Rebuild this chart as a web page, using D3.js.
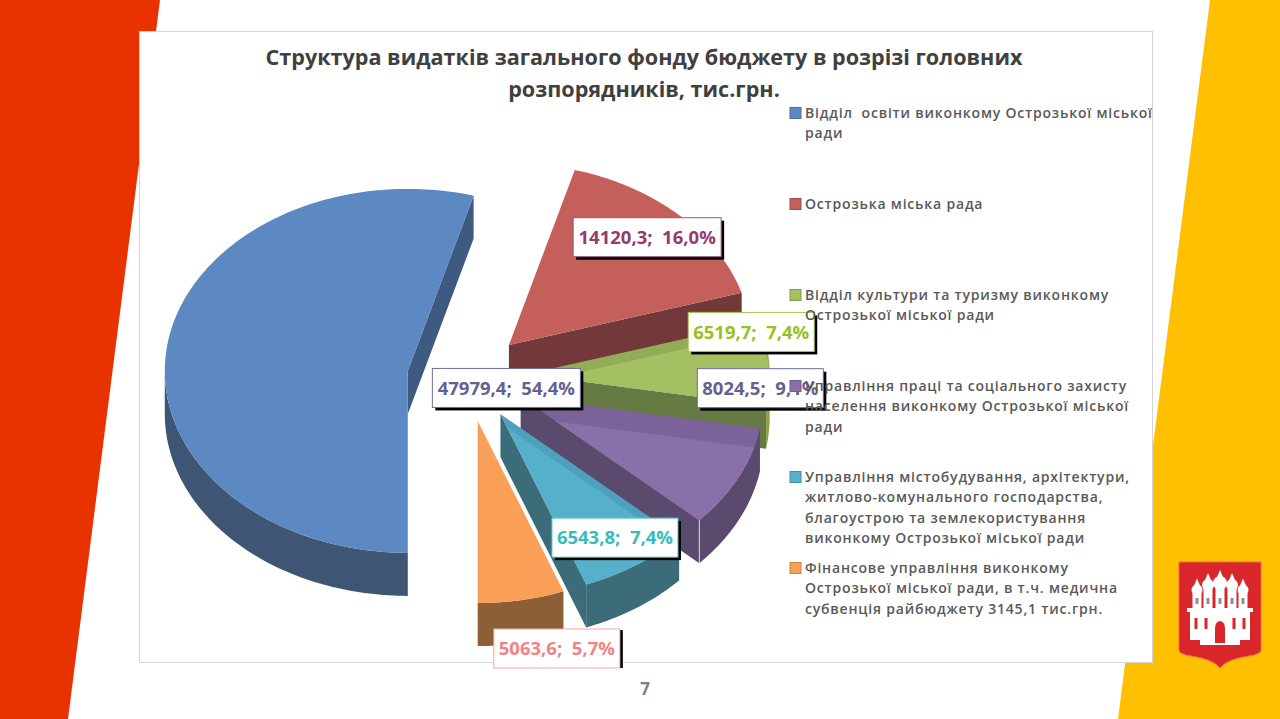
<!DOCTYPE html>
<html>
<head>
<meta charset="utf-8">
<script src="https://cdn.jsdelivr.net/npm/d3@7"></script>
<style>
  html, body { margin: 0; padding: 0; background: #fff; }
  svg { display: block; }
  text { font-family: "Open Sans", "Noto Sans", sans-serif; }
</style>
</head>
<body>
<svg id="chart" width="1280" height="719"></svg>
<script>
const categories = [
  "Відділ  освіти виконкому Острозької міської ради",
  "Острозька міська рада",
  "Відділ культури та туризму виконкому Острозької міської ради",
  "Управління праці та соціального захисту населення виконкому Острозької міської ради",
  "Управління містобудування, архітектури, житлово-комунального господарства, благоустрою та землекористування виконкому Острозької міської ради",
  "Фінансове управління виконкому Острозької міської ради, в т.ч. медична субвенція райбюджету 3145,1 тис.грн."
];
const values = [47979.4, 14120.3, 6519.7, 8024.5, 6543.8, 5063.6];
const titleLines = [
  "Структура видатків загального фонду бюджету в розрізі головних",
  "розпорядників, тис.грн."
];
const legendLines = [
  ["Відділ  освіти виконкому Острозької міської", "ради"],
  ["Острозька міська рада"],
  ["Відділ культури та туризму виконкому", "Острозької міської ради"],
  ["Управління праці та соціального захисту", "населення виконкому Острозької міської", "ради"],
  ["Управління містобудування, архітектури,", "житлово-комунального господарства,", "благоустрою та землекористування", "виконкому Острозької міської ради"],
  ["Фінансове управління виконкому", "Острозької міської ради, в т.ч. медична", "субвенція райбюджету 3145,1 тис.грн."]
];

// colours by slice
const topColors  = ["#5d89c3", "#c55f5c", "#a4c063", "#8a70a9", "#57b0ca", "#f99f57"];
const bandColors = [null, null, "#93ac58", "#7b6299", "#4ea1ba", null];
const bandDepth  = [0, 0, 10, 20, 9, 0];
const wallColors = ["#3e5674", "#73393a", "#8d9f4a", "#5a4a6e", "#3c6c7a", "#8d5f37"];
const cutColors  = ["#3f5a80", "#73393a", "#667a44", "#5a4a6e", "#3c6c7a", "#8d5f37"];
const labelText  = ["#63618f", "#953a6d", "#96c11f", "#63618f", "#37bcbc", "#f08484"];
const labelEdge  = ["#6d6d9c", "#a0527e", "#a5c94a", "#6d6d9c", "#5cc6c6", "#f2a5a5"];
const labelNudge = [[243, 32], [36, -30], [79, -36], [109, -57], [33, 33], [53, 120]];

// pie layout
const cx = 467, cy = 377, rx = 243, ry = 182, depth = 43, explode = 0.246;
const svg = d3.select("#chart");

// slide background
const slide = svg.append("g");
slide.append("path").attr("d", "M0,0H160L68,719H0Z").attr("fill", "#e83200");
slide.append("path").attr("d", "M1210,0H1280V719H1118Z").attr("fill", "#fec000");
slide.append("rect")
  .attr("x", 139.5).attr("y", 31.5).attr("width", 1013).attr("height", 631)
  .attr("fill", "#fff").attr("stroke", "#d4d4d4");

const xScale = d3.scaleLinear().domain([-1, 1]).range([cx - rx, cx + rx]);
const yScale = d3.scaleLinear().domain([-1, 1]).range([cy + ry, cy - ry]);

const pie = d3.pie().sort(null).startAngle(Math.PI).endAngle(3 * Math.PI);
const arcs = pie(values);
const total = d3.sum(values);
const fmt = d3.formatLocale({decimal: ",", thousands: "", grouping: [3], currency: ["", ""]}).format(".1f");

// a point of the top face: r along angle a, shifted by the slice explosion along m
function point(a, r, m, dy = 0) {
  return [
    xScale(r * Math.sin(a) + explode * Math.sin(m)),
    yScale(r * Math.cos(a) + explode * Math.cos(m)) + dy
  ];
}
function arcPoints(a0, a1, m, dy) {
  const n = Math.max(2, Math.ceil((a1 - a0) / 0.02));
  return d3.range(n + 1).map(i => point(a0 + (a1 - a0) * i / n, 1, m, dy));
}
const line = d3.line();
const closed = pts => line(pts) + "Z";

const slices = svg.append("g");
const defs = svg.append("defs");

// red to orange run back to front, blue touches none of them
arcs.forEach((d, i) => {
  const m = (d.startAngle + d.endAngle) / 2;
  const g = slices.append("g");
  const apex = point(0, 0, m);
  const top = [apex, ...arcPoints(d.startAngle, d.endAngle, m, 0)];

  // straight cut walls, only those that face the viewer
  [[d.startAngle, Math.sin(d.startAngle) < -0.001], [d.endAngle, Math.sin(d.endAngle) > 0.001]]
    .filter(w => w[1])
    .forEach(w => {
      const p = point(w[0], 1, m);
      g.append("path")
        .attr("d", closed([apex, p, [p[0], p[1] + depth], [apex[0], apex[1] + depth]]))
        .attr("fill", cutColors[i]);
    });

  // rim, the part of the arc on the front half
  const turn = d.startAngle >= 2 * Math.PI - 1e-6 ? 2 * Math.PI : 0;
  const a0 = Math.max(d.startAngle - turn, Math.PI / 2);
  const a1 = Math.min(d.endAngle - turn, 3 * Math.PI / 2);
  if (a1 > a0) {
    g.append("path")
      .attr("d", closed([...arcPoints(a0, a1, m, 0), ...arcPoints(a0, a1, m, depth).reverse()]))
      .attr("fill", wallColors[i]);
  }

  if (bandDepth[i]) {
    // darker strip along the start edge
    defs.append("clipPath").attr("id", "top" + i).append("path").attr("d", closed(top));
    g.append("path").attr("d", closed(top)).attr("fill", bandColors[i]);
    g.append("g").attr("clip-path", `url(#top${i})`)
      .append("path")
      .attr("d", closed(top))
      .attr("transform", `translate(0,${bandDepth[i]})`)
      .attr("fill", topColors[i]);
  } else {
    g.append("path").attr("d", closed(top)).attr("fill", topColors[i]);
  }

  // pale corner line on the purple slice
  if (i === 3) {
    const p = point(d.endAngle, 1, m);
    g.append("line")
      .attr("x1", p[0]).attr("x2", p[0]).attr("y1", p[1]).attr("y2", p[1] + depth)
      .attr("stroke", "#d9d3e4").attr("stroke-width", 1);
  }
});

// data labels
const labels = svg.append("g");
arcs.forEach((d, i) => {
  const m = (d.startAngle + d.endAngle) / 2;
  const c = point(m, 0.6, m);
  const lx = c[0] + labelNudge[i][0], ly = c[1] + labelNudge[i][1];
  const pct = fmt(d.value / total * 100);
  const w = i === 0 || i === 1 ? 148 : 126, h = 39;
  const g = labels.append("g").attr("transform", `translate(${lx},${ly})`);
  if (i === 5) {
    g.append("rect").attr("x", w / 2).attr("y", -h / 2 + 1).attr("width", 3).attr("height", h - 1).attr("fill", "#000");
  } else {
    g.append("rect").attr("x", -w / 2 + 3).attr("y", -h / 2 + 3).attr("width", w).attr("height", h).attr("fill", "#000");
  }
  g.append("rect").attr("x", -w / 2).attr("y", -h / 2).attr("width", w).attr("height", h)
    .attr("fill", "#fff").attr("stroke", labelEdge[i]);
  g.append("text")
    .attr("text-anchor", "middle").attr("dy", "0.36em")
    .attr("font-size", 18.5).attr("font-weight", 700)
    .attr("fill", labelText[i])
    .style("white-space", "pre")
    .text(`${fmt(d.value)};  ${pct}%`);
});

// title
svg.append("g").selectAll("text").data(titleLines).join("text")
  .attr("x", 644)
  .attr("y", (d, i) => 65 + i * 32)
  .attr("text-anchor", "middle")
  .attr("font-size", 21.6).attr("font-weight", 700)
  .attr("fill", "#404040")
  .text(d => d);

// legend
const legendY = d3.scalePoint().domain(d3.range(categories.length)).range([113, 568]);
const legend = svg.append("g").selectAll("g").data(categories).join("g")
  .attr("transform", (d, i) => `translate(790,${legendY(i)})`);
legend.append("rect")
  .attr("y", -5.5).attr("width", 11).attr("height", 11)
  .attr("fill", (d, i) => topColors[i])
  .attr("stroke", (d, i) => d3.color(topColors[i]).darker(0.6));
legend.selectAll("text").data((d, i) => legendLines[i]).join("text")
  .attr("x", 15)
  .attr("y", (d, j) => j * 20.4 + 5)
  .attr("font-size", 14).attr("font-weight", 600)
  .attr("letter-spacing", 0.8)
  .attr("fill", "#595959")
  .style("white-space", "pre")
  .text(d => d);

// page number
svg.append("text").attr("x", 645).attr("y", 695)
  .attr("text-anchor", "middle")
  .attr("font-size", 17).attr("font-weight", 700)
  .attr("fill", "#7f7f7f").text("7");

// town emblem
const crest = svg.append("g").attr("transform", "translate(1179,562)");
crest.append("path")
  .attr("d", "M0,0H82V88Q82,92 70,94Q48,97 41,106Q34,97 12,94Q0,92 0,88Z")
  .attr("fill", "#d8262b").attr("stroke", "#ea6a50").attr("stroke-width", 1);
const b = crest.append("g").attr("fill", "#fff");
[[18, 28, 5.5], [29, 23, 6], [41, 21, 7], [53, 23, 6], [64, 28, 5.5]].forEach(t => {
  b.append("circle").attr("cx", t[0]).attr("cy", t[1]).attr("r", t[2]);
  b.append("path").attr("d", `M${t[0]},${t[1] - t[2] - 6}L${t[0] + 3},${t[1] - t[2] + 1}H${t[0] - 3}Z`);
  b.append("rect").attr("x", t[0] - 4.5).attr("y", t[1] + 3).attr("width", 9).attr("height", 48 - t[1]);
});
b.append("rect").attr("x", 11).attr("y", 48).attr("width", 60).attr("height", 30);
b.append("rect").attr("x", 8).attr("y", 46).attr("width", 66).attr("height", 4);
b.append("rect").attr("x", 21).attr("y", 76).attr("width", 40).attr("height", 7);
const win = crest.append("g").attr("fill", "#9a8f8f");
[18, 29, 41, 53, 64].forEach(x => win.append("rect").attr("x", x - 1.5).attr("y", 36).attr("width", 3).attr("height", 6));
const w = crest.append("g").attr("fill", "#d8262b");
w.append("path").attr("d", "M36,81V66a5,7 0 0 1 10,0V81Z");
[17, 27, 55, 65].forEach(x => w.append("rect").attr("x", x - 1.5).attr("y", 56).attr("width", 3).attr("height", 11));
</script>
</body>
</html>
